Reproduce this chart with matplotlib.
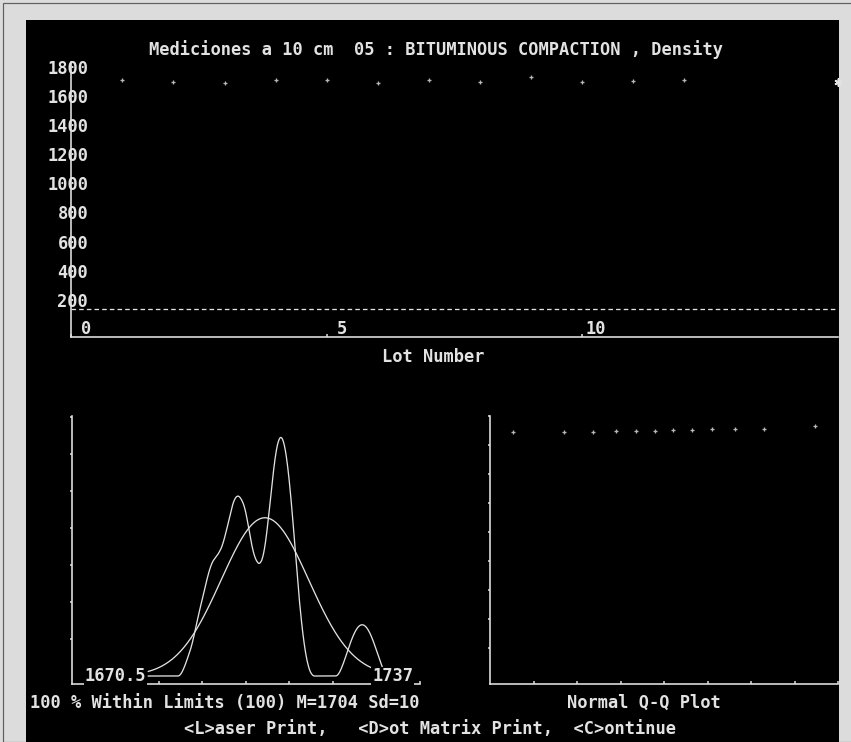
import matplotlib
matplotlib.use("Agg")
import matplotlib.pyplot as plt
from matplotlib.patches import Rectangle
import numpy as np
from statistics import NormalDist

# density per lot (lots 1..12)
lots = [1, 2, 3, 4, 5, 6, 7, 8, 9, 10, 11, 12]
density = [1707.0, 1696.5, 1686.4, 1709.0, 1706.0, 1689.8,
           1710.0, 1697.5, 1731.0, 1693.0, 1698.5, 1708.0]
star_lot = 15
star_value = 1694.0
lower_limit = 140.0

run_yticks = [200, 400, 600, 800, 1000, 1200, 1400, 1600, 1800]
run_xticks = [0, 5, 10]

# histogram panel: curve range, fitted normal, kernel half width
curve_lo, curve_hi = 1670.5, 1737.0
curve_mean, curve_sd = 1703.5, 12.4
kernel_h = 7.5
n_bins = 6

qq_yticks = [200, 400, 600, 800, 1000, 1200, 1400, 1600, 1800]
qq_xticks = [-1.5, -1.0, -0.5, 0.0, 0.5, 1.0, 1.5, 2.0]

title = "Mediciones a 10 cm  05 : BITUMINOUS COMPACTION , Density"
summary = "100 % Within Limits (100) M=1704 Sd=10"
menu = "<L>aser Print,   <D>ot Matrix Print,  <C>ontinue"

W, H, DPI = 851, 742, 72
FG = "#e2e2e2"
DIM = "#b8b8b8"
FS = 17
plt.rcParams["font.family"] = ["DejaVu Sans Mono"]
plt.rcParams["font.weight"] = "bold"


def rect(x0, y0, x1, y1):
    return [x0 / W, 1 - y1 / H, (x1 - x0) / W, (y1 - y0) / H]


def setup(ax):
    ax.set_facecolor("none")
    for s in ("top", "right"):
        ax.spines[s].set_visible(False)
    for s in ("left", "bottom"):
        ax.spines[s].set_color(FG)
        ax.spines[s].set_linewidth(1.6)
    ax.tick_params(colors=FG, labelcolor=FG, width=1.5)


fig = plt.figure(figsize=(W / DPI, H / DPI), dpi=DPI, facecolor="#dcdcdc")
# screen frame, kept behind the axes
fig.patches.append(Rectangle((3 / W, 0), 1, 1 - 3 / H, transform=fig.transFigure,
                             facecolor="none", edgecolor="#606060", lw=1.2,
                             zorder=-10))
fig.patches.append(Rectangle((26 / W, 0), (839 - 26) / W, 1 - 20 / H,
                             transform=fig.transFigure, facecolor="black",
                             edgecolor="none", zorder=-9))

# ---- run chart ----
ax = fig.add_axes(rect(71.2, 62, 837.7, 336.7))
setup(ax)
ax.set_xlim(0, 15)
ax.set_ylim(-52, 1832)
ax.plot(lots, density, ls="none", marker="+", ms=4, mew=1.3, color=DIM)
ax.plot([star_lot], [star_value], ls="none", marker=(6, 2, 0), ms=8, mew=1.6,
        color=FG, clip_on=False)
ax.axhline(lower_limit, color=FG, lw=1.3, dashes=(3.5, 2.4))
ax.set_yticks(run_yticks)
ax.set_yticklabels([str(v) for v in run_yticks])
ax.tick_params(axis="y", length=0, pad=-17, labelsize=FS)
ax.set_xticks(run_xticks)
ax.tick_params(axis="x", direction="in", length=3, labelbottom=False)
for t, off in zip(run_xticks, [10, 10, 3]):
    ax.annotate(str(t), xy=(t, 0), xytext=(off, 0), textcoords="offset points",
                ha="left", va="center", color=FG, fontsize=FS)

fig.text(148.6 / W, 1 - 50 / H, title, ha="left", va="center", color=FG, fontsize=FS)
fig.text(382 / W, 1 - 357 / H, "Lot Number", ha="left", va="center", color=FG,
         fontsize=FS)

# ---- histogram panel: kernel density (biweight) + fitted normal ----
vals = np.array(density)
span = curve_hi - curve_lo
binw = span / n_bins
xs = np.linspace(curve_lo, curve_hi, 500)
u = (xs[:, None] - vals[None, :]) / kernel_h
kde = (np.clip(1 - u ** 2, 0, None) ** 2).sum(axis=1) * (15 / 16) / kernel_h * binw
norm = np.array([NormalDist(curve_mean, curve_sd).pdf(x) for x in xs]) * len(vals) * binw

ax2 = fig.add_axes(rect(71.7, 416, 420, 684))
setup(ax2)
xlo, xhi = curve_lo - 0.326 * span, curve_hi + 0.156 * span
ax2.set_xlim(xlo, xhi)
ax2.set_ylim(-0.216, 7.03)
ax2.plot(xs, kde, color=FG, lw=1.3)
ax2.plot(xs, norm, color=FG, lw=1.3)
ax2.set_xticks(np.linspace(xlo, xhi, 9)[1:])
ax2.set_yticks(range(1, 8))
ax2.tick_params(axis="x", direction="in", length=3, labelbottom=False)
ax2.tick_params(axis="y", direction="out", length=2, labelleft=False)
lab_box = dict(facecolor="black", edgecolor="none", pad=0.5)
ax2.annotate(f"{curve_lo:g}", xy=(curve_lo, 0), xytext=(-2, 0),
             textcoords="offset points", ha="right", va="center", color=FG,
             fontsize=FS, bbox=lab_box)
ax2.annotate(f"{curve_hi:g}", xy=(1, 0), xycoords=("axes fraction", "data"),
             xytext=(-7, 0), textcoords="offset points", ha="right", va="center",
             color=FG, fontsize=FS, bbox=lab_box)

# ---- normal Q-Q plot ----
srt = np.sort(vals)
n = len(srt)
q = [NormalDist().inv_cdf((i + 0.5) / n) for i in range(n)]
ax3 = fig.add_axes(rect(490, 416, 838, 684))
setup(ax3)
ax3.set_xlim(-2, 2)
ax3.set_ylim(-46, 1800)
ax3.plot(q, srt, ls="none", marker="+", ms=4, mew=1.3, color=DIM)
ax3.set_xticks(qq_xticks)
ax3.set_yticks(qq_yticks)
ax3.tick_params(axis="x", direction="in", length=3, labelbottom=False)
ax3.tick_params(axis="y", direction="out", length=2, labelleft=False)

fig.text(30 / W, 1 - 703 / H, summary, ha="left", va="center", color=FG, fontsize=FS)
fig.text(567 / W, 1 - 703 / H, "Normal Q-Q Plot", ha="left", va="center", color=FG,
         fontsize=FS)
fig.text(184.5 / W, 1 - 729 / H, menu, ha="left", va="center", color=FG, fontsize=FS)

fig.savefig("out.png", dpi=DPI, facecolor=fig.get_facecolor())
